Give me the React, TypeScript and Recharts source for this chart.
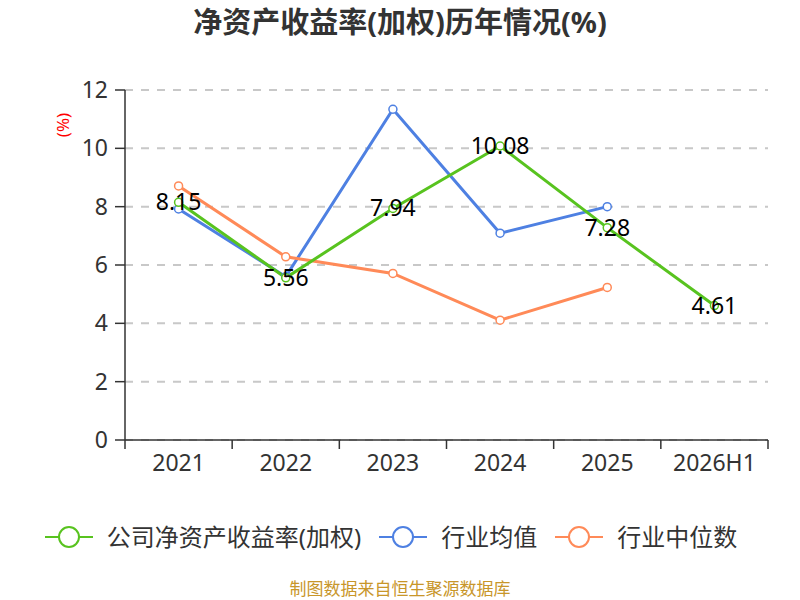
import { LineChart, Line, XAxis, YAxis, CartesianGrid, LabelList } from 'recharts';

const years = ['2021', '2022', '2023', '2024', '2025', '2026H1'];
const companyRoe = [8.15, 5.56, 7.94, 10.08, 7.28, 4.61];
const industryAvg = [7.92, 5.6, 11.34, 7.09, 8.0, null];
const industryMedian = [8.71, 6.28, 5.71, 4.11, 5.23, null];
const yTicks = [0, 2, 4, 6, 8, 10, 12];

const GREEN = '#58c31f';
const BLUE = '#4e80e2';
const ORANGE = '#ff8a58';
const FONT = '"Noto Sans", "Noto Sans CJK SC", sans-serif';

const data = years.map((y, i) => ({
  year: y,
  company: companyRoe[i],
  avg: industryAvg[i],
  median: industryMedian[i],
}));

const BAND = 643 / years.length;

function XTick(props: any) {
  const { x, y, payload, index } = props;
  return (
    <g>
      <line x1={x - BAND / 2} y1={y - 8} x2={x - BAND / 2} y2={y + 1} stroke="#333" strokeWidth={1.5} />
      {index === years.length - 1 && (
        <line x1={x + BAND / 2} y1={y - 8} x2={x + BAND / 2} y2={y + 1} stroke="#333" strokeWidth={1.5} />
      )}
      <text x={x} y={y + 23} textAnchor="middle" fill="#333" fontSize={23} fontFamily={FONT}>
        {payload.value}
      </text>
    </g>
  );
}

function ValueLabel(props: any) {
  const { x, y, value } = props;
  return (
    <text x={x} y={y} dy={8} textAnchor="middle" fill="#000" fontSize={23} fontFamily={FONT}>
      {value}
    </text>
  );
}

function LegendItem({ color, text }: { color: string; text: string }) {
  return (
    <div style={{ display: 'flex', alignItems: 'center', marginRight: 18 }}>
      <svg width={48} height={24} style={{ marginRight: 14 }}>
        <line x1={0} y1={12} x2={48} y2={12} stroke={color} strokeWidth={2} />
        <circle cx={24} cy={12} r={10} fill="#fff" stroke={color} strokeWidth={2} />
      </svg>
      <span style={{ fontSize: 24, lineHeight: '28px', color: '#333' }}>{text}</span>
    </div>
  );
}

export default function App() {
  return (
    <div style={{ position: 'absolute', left: 0, top: 0, width: 800, height: 600, overflow: 'hidden', background: '#fff', fontFamily: FONT }}>
      <div style={{ position: 'absolute', top: 7, width: 800, textAlign: 'center', fontSize: 29, lineHeight: '30px', fontWeight: 'bold', color: '#333' }}>
        净资产收益率(加权)历年情况(%)
      </div>
      <div style={{ position: 'absolute', left: 48, top: 112, width: 30, height: 26, lineHeight: '26px', transform: 'rotate(-90deg)', color: '#f00', fontSize: 17, textAlign: 'center' }}>
        (%)
      </div>
      <LineChart width={800} height={600} data={data} margin={{ top: 90, right: 32, bottom: 130, left: 65 }}>
        <CartesianGrid vertical={false} stroke="#c8c8c8" strokeDasharray="8 8" strokeWidth={2} />
        <XAxis
          dataKey="year"
          padding={{ left: BAND / 2, right: BAND / 2 }}
          axisLine={{ stroke: '#333', strokeWidth: 1.5 }}
          tickLine={false}
          tick={<XTick />}
          height={30}
          interval={0}
        />
        <YAxis
          domain={[0, 12]}
          ticks={yTicks}
          width={60}
          axisLine={{ stroke: '#333', strokeWidth: 1.5 }}
          tickLine={{ stroke: '#333', strokeWidth: 1.5 }}
          tickSize={10}
          tickMargin={7}
          tick={{ fill: '#333', fontSize: 23, fontFamily: FONT }}
        />
        <Line dataKey="avg" stroke={BLUE} strokeWidth={3} dot={{ r: 4, fill: '#fff', stroke: BLUE, strokeWidth: 1.5 }} isAnimationActive={false} />
        <Line dataKey="median" stroke={ORANGE} strokeWidth={3} dot={{ r: 4, fill: '#fff', stroke: ORANGE, strokeWidth: 1.5 }} isAnimationActive={false} />
        <Line dataKey="company" stroke={GREEN} strokeWidth={3} dot={{ r: 4, fill: '#fff', stroke: GREEN, strokeWidth: 1.5 }} isAnimationActive={false}>
          <LabelList dataKey="company" content={<ValueLabel />} />
        </Line>
      </LineChart>
      <div style={{ position: 'absolute', top: 523, left: 0, width: 800, display: 'flex', justifyContent: 'center' }}>
        <LegendItem color={GREEN} text="公司净资产收益率(加权)" />
        <LegendItem color={BLUE} text="行业均值" />
        <LegendItem color={ORANGE} text="行业中位数" />
      </div>
      <div style={{ position: 'absolute', top: 578, width: 800, textAlign: 'center', fontSize: 17, lineHeight: '22px', color: '#c8962a' }}>
        制图数据来自恒生聚源数据库
      </div>
    </div>
  );
}
